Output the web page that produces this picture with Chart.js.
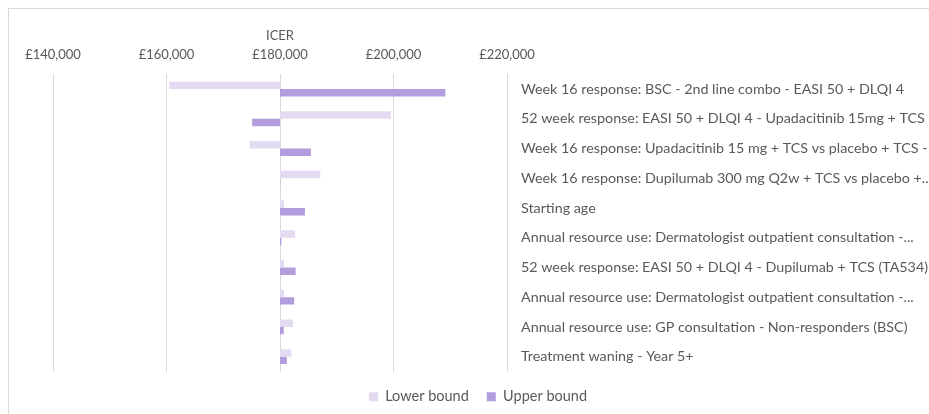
<!DOCTYPE html>
<html>
<head>
<meta charset="utf-8">
<script src="https://cdn.jsdelivr.net/npm/chart.js@4/dist/chart.umd.min.js"></script>
<style>
  html, body { margin: 0; padding: 0; background: #fff; overflow: hidden; }
  #wrap { position: relative; width: 929px; height: 414px; }
  #frame { position: absolute; left: 8px; top: 8px; width: 960px; height: 440px; border: 1px solid #d9d9d9; pointer-events: none; }
  canvas { position: absolute; left: 0; top: 0; }
</style>
</head>
<body>
<div id="wrap">
  <canvas id="myChart" width="929" height="414"></canvas>
  <div id="frame"></div>
</div>
<script>
const baseIcer = 180000;

const parameters = [
  'Week 16 response: BSC - 2nd line combo - EASI 50 + DLQI 4',
  '52 week response: EASI 50 + DLQI 4 - Upadacitinib 15mg + TCS',
  'Week 16 response: Upadacitinib 15 mg + TCS vs placebo + TCS - EASI 50 + DLQI 4',
  'Week 16 response: Dupilumab 300 mg Q2w + TCS vs placebo +...',
  'Starting age',
  'Annual resource use: Dermatologist outpatient consultation -...',
  '52 week response: EASI 50 + DLQI 4 - Dupilumab + TCS (TA534)',
  'Annual resource use: Dermatologist outpatient consultation -...',
  'Annual resource use: GP consultation - Non-responders (BSC)',
  'Treatment waning - Year 5+'
];

const lowerBound = [160500, 199550, 174700, 187100, 180700, 182650, 180700, 180700, 182300, 182000];
const upperBound = [209150, 175100, 185450, 180050, 184400, 180250, 182750, 182500, 180650, 181200];

const tickValues = [140000, 160000, 180000, 200000, 220000];

const textColor = '#595959';
const gridColor = '#d9d9d9';

const ctx = document.getElementById('myChart');

const chartConfig = {
  type: 'bar',
  data: {
    labels: parameters,
    datasets: [
      {
        label: 'Lower bound',
        data: lowerBound.map(v => [baseIcer, v]),
        backgroundColor: '#e3dbf2',
        borderWidth: 0,
        borderSkipped: false
      },
      {
        label: 'Upper bound',
        data: upperBound.map(v => [baseIcer, v]),
        backgroundColor: '#b29ddd',
        borderWidth: 0,
        borderSkipped: false
      }
    ]
  },
  options: {
    indexAxis: 'y',
    responsive: false,
    animation: { duration: 0 },
    categoryPercentage: 0.5,
    barPercentage: 1,
    layout: {
      padding: { left: 27, right: 0, top: 28, bottom: 0 }
    },
    plugins: {
      tooltip: { enabled: false },
      legend: {
        position: 'bottom',
        align: 'center',
        labels: {
          boxWidth: 9,
          boxHeight: 9,
          padding: 18,
          color: textColor,
          font: { family: 'Lato', size: 14.5 }
        }
      }
    },
    scales: {
      x: {
        position: 'top',
        min: tickValues[0],
        max: tickValues[tickValues.length - 1],
        afterBuildTicks: scale => {
          scale.ticks = tickValues.map(v => ({ value: v }));
        },
        title: {
          display: true,
          text: 'ICER',
          color: textColor,
          font: { family: 'Lato', size: 13 },
          padding: { top: 0, bottom: -9 }
        },
        ticks: {
          color: textColor,
          font: { family: 'Lato', size: 13 },
          padding: 12,
          maxRotation: 0,
          callback: v => '£' + Number(v).toLocaleString('en-GB')
        },
        grid: {
          color: gridColor,
          drawTicks: false
        },
        border: { display: false }
      },
      y: {
        position: 'right',
        afterFit: scale => { scale.width = 929 - 507; },
        ticks: {
          color: textColor,
          font: { family: 'Lato', size: 14.3 },
          padding: 14,
          crossAlign: 'near',
          autoSkip: false
        },
        grid: { display: false, drawTicks: false },
        border: { display: true, color: gridColor }
      },
      // empty spacer on the left so the plot starts at the £140,000 line
      spacer: {
        type: 'category',
        position: 'left',
        afterFit: scale => { scale.width = 26; },
        ticks: { display: false },
        grid: { display: false, drawTicks: false },
        border: { display: false }
      }
    }
  }
};

const myChart = new Chart(ctx, chartConfig);
</script>
</body>
</html>
